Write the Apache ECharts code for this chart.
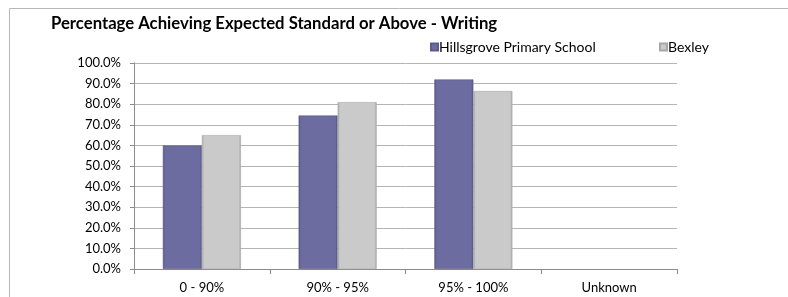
<!DOCTYPE html>
<html>
<head>
<meta charset="utf-8">
<script src="https://cdn.jsdelivr.net/npm/echarts@6/dist/echarts.min.js"></script>
<style>
  html, body { margin: 0; padding: 0; background: #fff; }
  #chart { width: 788px; height: 297px; }
</style>
</head>
<body>
<div id="chart"></div>
<script>
  // categories and series (percent)
  const categories = ['0 - 90%', '90% - 95%', '95% - 100%', 'Unknown']
  const hillsgrove = [60, 74.5, 92, null]
  const bexley = [65, 81, 86.4, null]
  const seriesNames = ['Hillsgrove Primary School', 'Bexley']

  const font = 'Lato, "Open Sans", sans-serif'

  // bar fill with a light bevel look
  function bevel(mid, edge) {
    return new echarts.graphic.LinearGradient(0, 0, 1, 0, [
      { offset: 0, color: edge },
      { offset: 0.06, color: mid },
      { offset: 0.94, color: mid },
      { offset: 1, color: edge }
    ])
  }

  const chart = echarts.init(document.getElementById('chart'))
  chart.setOption({
    animation: false,
    textStyle: { fontFamily: font },
    graphic: [
      {
        type: 'rect',
        shape: { x: 9.5, y: 8.5, width: 900, height: 400 },
        style: { fill: 'none', stroke: '#b8b8b8', lineWidth: 1 },
        silent: true
      }
    ],
    title: {
      text: 'Percentage Achieving Expected Standard or Above - Writing',
      left: 46,
      top: 10,
      textStyle: { fontFamily: font, fontSize: 16.7, fontWeight: 'bold', color: '#000' }
    },
    legend: [
      {
        data: [seriesNames[0]],
        left: 425, top: 35,
        itemWidth: 7, itemHeight: 7, itemGap: 2,
        icon: 'rect',
        textStyle: { fontFamily: font, fontSize: 14, color: '#000', padding: [0, 0, 0, -4] }
      },
      {
        data: [seriesNames[1]],
        left: 654, top: 35,
        itemWidth: 7, itemHeight: 7,
        icon: 'rect',
        textStyle: { fontFamily: font, fontSize: 14, color: '#000', padding: [0, 0, 0, -4] }
      }
    ],
    grid: { left: 134, right: 111, top: 63, bottom: 28, containLabel: false },
    xAxis: {
      type: 'category',
      data: categories,
      axisLine: { lineStyle: { color: '#8c8c8c' } },
      axisTick: { show: true, length: 5, lineStyle: { color: '#8c8c8c' } },
      axisLabel: { fontFamily: font, fontSize: 13, color: '#000', margin: 12 }
    },
    yAxis: {
      type: 'value',
      min: 0, max: 100, interval: 10,
      axisLine: { show: true, lineStyle: { color: '#8c8c8c' } },
      axisTick: { show: true, length: 4, lineStyle: { color: '#8c8c8c' } },
      splitLine: { lineStyle: { color: '#b4b4b4' } },
      axisLabel: {
        fontFamily: font, fontSize: 13, color: '#000', margin: 13,
        formatter: v => v.toFixed(1) + '%'
      }
    },
    series: [
      {
        name: seriesNames[0],
        type: 'bar',
        data: hillsgrove,
        barGap: '0%',
        barCategoryGap: '42.5%',
        itemStyle: { color: bevel('#6c6ca0', '#55557f'), borderColor: '#5c5c8a', borderWidth: 0.6 }
      },
      {
        name: seriesNames[1],
        type: 'bar',
        data: bexley,
        itemStyle: { color: bevel('#cacaca', '#a5a5a5'), borderColor: '#a8a8a8', borderWidth: 0.6 }
      }
    ]
  })
</script>
</body>
</html>
